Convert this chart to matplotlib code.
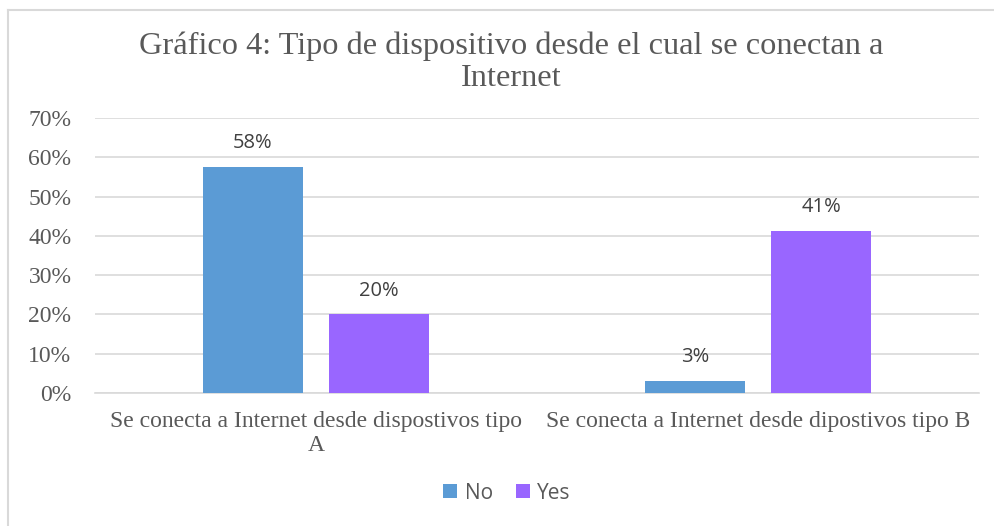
import textwrap
import numpy as np
import matplotlib.pyplot as plt
from matplotlib.lines import Line2D

# data
categories = ["Se conecta a Internet desde dispostivos tipo A",
              "Se conecta a Internet desde dipostivos tipo B"]
series = ["No", "Yes"]
no_vals = [0.575, 0.03]
yes_vals = [0.20, 0.413]
no_labels = ["58%", "3%"]
yes_labels = ["20%", "41%"]
yticks = [0, 0.1, 0.2, 0.3, 0.4, 0.5, 0.6, 0.7]

c_no = "#5B9BD5"
c_yes = "#9966FF"
txt = "#595959"
grid_c = "#D9D9D9"

fig = plt.figure(figsize=(9.94, 5.26), dpi=100)
ax = fig.add_axes([0.0956, 0.2529, 0.8894, 0.5228])

x = np.arange(len(categories))
w = 0.226
off = 0.1425
b1 = ax.bar(x - off, no_vals, w, color=c_no, label=series[0], zorder=3)
b2 = ax.bar(x + off, yes_vals, w, color=c_yes, label=series[1], zorder=3)

for bars, labs in [(b1, no_labels), (b2, yes_labels)]:
    for b, lab in zip(bars, labs):
        ax.annotate(lab, (b.get_x() + b.get_width() / 2, b.get_height()),
                    xytext=(0, 10), textcoords="offset points", ha="center", va="bottom",
                    fontsize=14.5, color="#404040", family="Open Sans")

ax.set_xlim(-0.5, 1.5)
ax.set_ylim(0, 0.7)
ax.set_yticks(yticks)
ax.set_yticklabels([f"{int(round(t * 100))}%" for t in yticks],
                   family="Liberation Serif", fontsize=17, color=txt)
ax.set_xticks(x)
ax.set_xticklabels([textwrap.fill(c, 45) for c in categories],
                   family="Liberation Serif", fontsize=17, color=txt, linespacing=1.2)
ax.tick_params(axis="both", length=0)
ax.tick_params(axis="x", pad=13)
ax.tick_params(axis="y", pad=17)
ax.grid(axis="y", color=grid_c, linewidth=1.2, zorder=0)
for s in ["left", "right", "top"]:
    ax.spines[s].set_visible(False)
ax.spines["bottom"].set_color(grid_c)
ax.spines["bottom"].set_linewidth(1.2)

fig.text(0.514, 0.882, "Gráfico 4: Tipo de dispositivo desde el cual se conectan a\nInternet",
         ha="center", va="center", family="Liberation Serif", fontsize=23.3,
         color=txt, linespacing=1.12)

leg = fig.legend(loc="center", bbox_to_anchor=(0.51, 0.0627), ncol=2, frameon=False,
                 prop={"family": "Open Sans", "size": 15}, handlelength=0.67,
                 handleheight=0.67, handletextpad=0.35, columnspacing=1.1)
for t in leg.get_texts():
    t.set_color(txt)

# chart border
fig.add_artist(Line2D([8 / 994, 8 / 994], [0, 1 - 10 / 526], color=grid_c, lw=1.5))
fig.add_artist(Line2D([8 / 994, 1], [1 - 10 / 526, 1 - 10 / 526], color=grid_c, lw=1.5))

fig.savefig("out.png", dpi=100)
